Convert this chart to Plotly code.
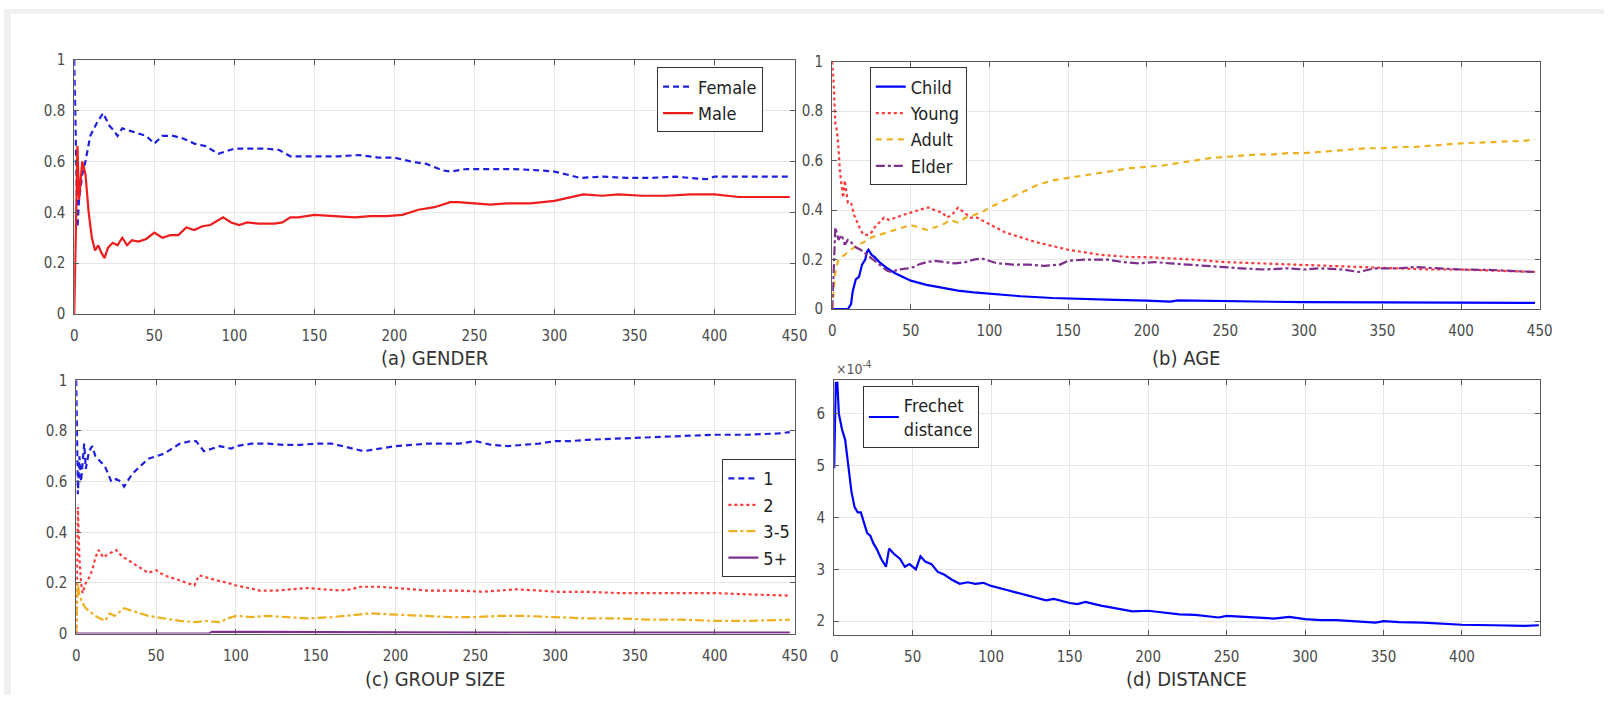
import plotly.graph_objects as go

FONT = "Liberation Sans Narrow, Arial Narrow, DejaVu Sans Condensed, sans-serif"

# ---------------- (a) GENDER ----------------
female_x = [0, 2, 3, 5, 7, 10, 14, 18, 22, 25, 27, 30, 35, 40, 45, 50, 55, 62, 68, 75, 82, 90, 95, 100,
            110, 120, 128, 135, 150, 165, 178, 190, 200, 210, 220, 230, 235, 245, 260, 275, 290, 300,
            310, 316, 330, 345, 360, 375, 385, 395, 400, 420, 447]
female_y = [1.0, 0.34, 0.45, 0.55, 0.60, 0.70, 0.75, 0.79, 0.74, 0.72, 0.70, 0.73, 0.72, 0.71, 0.70, 0.67,
            0.70, 0.70, 0.69, 0.67, 0.66, 0.63, 0.64, 0.65, 0.65, 0.65, 0.645, 0.62, 0.62, 0.62, 0.625,
            0.615, 0.615, 0.60, 0.59, 0.565, 0.56, 0.57, 0.57, 0.57, 0.565, 0.56, 0.545, 0.535, 0.54,
            0.535, 0.535, 0.54, 0.535, 0.53, 0.54, 0.54, 0.54]
male_x = [0, 2, 3, 5, 7, 9, 11, 13, 15, 17, 19, 21, 24, 27, 30, 33, 36, 40, 45, 50, 55, 60, 65, 70, 75,
          80, 85, 90, 93, 98, 103, 108, 115, 125, 130, 135, 140, 150, 160, 175, 185, 195, 205, 215,
          225, 235, 240, 250, 260, 270, 285, 300, 310, 318, 330, 340, 355, 370, 385, 400, 415, 430, 447]
male_y = [0.0, 0.66, 0.45, 0.60, 0.55, 0.40, 0.30, 0.25, 0.27, 0.24, 0.22, 0.26, 0.28, 0.27, 0.30, 0.27,
          0.29, 0.285, 0.295, 0.32, 0.30, 0.31, 0.31, 0.34, 0.33, 0.345, 0.35, 0.37, 0.38, 0.36, 0.35,
          0.36, 0.355, 0.355, 0.36, 0.38, 0.38, 0.39, 0.385, 0.38, 0.385, 0.385, 0.39, 0.41, 0.42, 0.44,
          0.44, 0.435, 0.43, 0.435, 0.435, 0.445, 0.46, 0.47, 0.465, 0.47, 0.465, 0.465, 0.47, 0.47,
          0.46, 0.46, 0.46]

# ---------------- (b) AGE ----------------
child_x = [0, 10, 12, 13, 15, 17, 19, 21, 22, 23, 25, 27, 30, 35, 40, 45, 50, 60, 70, 80, 90, 100,
           120, 140, 160, 180, 200, 215, 220, 250, 300, 350, 400, 447]
child_y = [0.0, 0.0, 0.02, 0.07, 0.12, 0.13, 0.18, 0.20, 0.23, 0.24, 0.22, 0.21, 0.19, 0.165, 0.145,
           0.13, 0.115, 0.098, 0.085, 0.075, 0.068, 0.062, 0.052, 0.045, 0.04, 0.037, 0.034, 0.03,
           0.035, 0.032, 0.028, 0.027, 0.025, 0.025]
young_x = [0, 1, 2, 3, 4, 5, 6, 7, 8, 9, 10, 12, 14, 16, 18, 20, 23, 25, 28, 30, 33, 36, 40, 45, 50,
           55, 60, 62, 65, 70, 73, 76, 80, 84, 88, 92, 95, 100, 110, 120, 130, 140, 150, 160, 170,
           180, 190, 200, 215, 230, 250, 270, 290, 310, 330, 350, 380, 400, 420, 447]
young_y = [1.0, 0.9, 0.75, 0.72, 0.65, 0.55, 0.50, 0.45, 0.52, 0.47, 0.43, 0.43, 0.38, 0.35, 0.32,
           0.30, 0.30, 0.31, 0.34, 0.35, 0.37, 0.36, 0.37, 0.38, 0.39, 0.40, 0.41, 0.41, 0.40, 0.39,
           0.37, 0.38, 0.41, 0.39, 0.37, 0.37, 0.36, 0.34, 0.31, 0.29, 0.27, 0.255, 0.24, 0.23, 0.22,
           0.215, 0.21, 0.21, 0.205, 0.20, 0.19, 0.185, 0.18, 0.175, 0.17, 0.165, 0.16, 0.16, 0.155,
           0.15]
adult_x = [0, 2, 4, 8, 12, 16, 20, 25, 30, 35, 40, 45, 50, 55, 60, 65, 70, 75, 80, 85, 90, 95, 100,
           110, 120, 130, 140, 150, 160, 170, 180, 190, 200, 210, 220, 230, 240, 250, 260, 270, 280,
           290, 300, 310, 320, 330, 340, 350, 360, 370, 380, 390, 400, 420, 440, 447]
adult_y = [0.0, 0.15, 0.20, 0.22, 0.24, 0.26, 0.27, 0.29, 0.30, 0.31, 0.32, 0.33, 0.34, 0.33, 0.32,
           0.33, 0.34, 0.36, 0.35, 0.37, 0.38, 0.39, 0.41, 0.44, 0.47, 0.50, 0.52, 0.53, 0.54, 0.55,
           0.56, 0.57, 0.575, 0.58, 0.59, 0.60, 0.61, 0.615, 0.62, 0.625, 0.625, 0.63, 0.63, 0.635,
           0.64, 0.645, 0.65, 0.65, 0.655, 0.655, 0.66, 0.665, 0.67, 0.675, 0.68, 0.685]
elder_x = [0, 2, 4, 6, 8, 10, 12, 15, 18, 22, 26, 30, 35, 38, 42, 48, 52, 55, 60, 65, 70, 78, 85, 90,
           95, 100, 105, 115, 125, 135, 145, 150, 160, 175, 185, 195, 205, 215, 225, 235, 245, 260,
           275, 290, 300, 310, 325, 335, 345, 360, 370, 385, 400, 420, 435, 447]
elder_y = [0.0, 0.33, 0.28, 0.30, 0.26, 0.28, 0.27, 0.25, 0.24, 0.22, 0.20, 0.18, 0.155, 0.15, 0.16,
           0.165, 0.17, 0.18, 0.19, 0.195, 0.19, 0.185, 0.19, 0.20, 0.205, 0.195, 0.185, 0.18, 0.18,
           0.175, 0.18, 0.195, 0.20, 0.20, 0.19, 0.185, 0.19, 0.185, 0.18, 0.175, 0.17, 0.165, 0.16,
           0.165, 0.16, 0.165, 0.16, 0.15, 0.165, 0.165, 0.17, 0.165, 0.16, 0.158, 0.155, 0.15]

# ---------------- (c) GROUP SIZE ----------------
g1_x = [0, 1, 2, 3, 5, 6, 8, 10, 12, 15, 18, 20, 22, 25, 28, 30, 35, 40, 45, 50, 55, 60, 65, 72, 75,
        80, 85, 90, 97, 100, 110, 120, 130, 140, 150, 160, 170, 180, 185, 200, 210, 220, 240, 250,
        260, 270, 280, 290, 300, 310, 320, 340, 350, 370, 380, 400, 420, 440, 447]
g1_y = [1.0, 0.55, 0.70, 0.60, 0.75, 0.65, 0.72, 0.74, 0.70, 0.68, 0.66, 0.63, 0.60, 0.61, 0.60, 0.58,
        0.63, 0.66, 0.69, 0.70, 0.71, 0.73, 0.75, 0.76, 0.76, 0.72, 0.73, 0.74, 0.73, 0.74, 0.75, 0.75,
        0.745, 0.745, 0.75, 0.75, 0.735, 0.72, 0.725, 0.74, 0.745, 0.75, 0.75, 0.76, 0.745, 0.74,
        0.745, 0.75, 0.76, 0.76, 0.765, 0.77, 0.775, 0.78, 0.78, 0.785, 0.785, 0.79, 0.795]
g2_x = [0, 1, 2, 3, 4, 6, 8, 10, 12, 14, 17, 19, 22, 25, 28, 30, 35, 40, 45, 50, 55, 60, 65, 70, 74,
        77, 82, 88, 95, 100, 108, 115, 125, 135, 145, 155, 165, 172, 178, 190, 200, 210, 220, 240,
        255, 265, 275, 290, 300, 320, 340, 360, 380, 400, 420, 440, 447]
g2_y = [0.0, 0.50, 0.30, 0.20, 0.16, 0.20, 0.22, 0.25, 0.30, 0.33, 0.30, 0.31, 0.32, 0.33, 0.31, 0.30,
        0.28, 0.26, 0.24, 0.25, 0.23, 0.22, 0.21, 0.20, 0.19, 0.23, 0.22, 0.21, 0.20, 0.19, 0.18, 0.17,
        0.17, 0.175, 0.18, 0.175, 0.17, 0.175, 0.185, 0.185, 0.18, 0.175, 0.17, 0.17, 0.165, 0.17,
        0.175, 0.17, 0.165, 0.165, 0.16, 0.16, 0.16, 0.16, 0.155, 0.15, 0.15]
g35_x = [0, 1, 2, 4, 6, 8, 12, 15, 18, 21, 24, 28, 30, 35, 40, 45, 50, 55, 60, 65, 75, 80, 90, 95,
         100, 110, 120, 130, 145, 160, 175, 185, 200, 215, 235, 250, 265, 280, 300, 320, 340, 360,
         380, 400, 420, 440, 447]
g35_y = [0.0, 0.20, 0.15, 0.12, 0.10, 0.09, 0.07, 0.06, 0.05, 0.08, 0.07, 0.09, 0.10, 0.09, 0.08,
         0.07, 0.065, 0.06, 0.055, 0.05, 0.045, 0.05, 0.045, 0.06, 0.07, 0.065, 0.07, 0.065, 0.06,
         0.065, 0.075, 0.08, 0.075, 0.07, 0.065, 0.065, 0.07, 0.07, 0.065, 0.06, 0.06, 0.055, 0.055,
         0.05, 0.05, 0.055, 0.055]
g5_x = [0, 83, 85, 110, 200, 300, 360, 370, 447]
g5_y = [0.0, 0.0, 0.007, 0.006, 0.005, 0.004, 0.003, 0.005, 0.004]

# ---------------- (d) DISTANCE (values x 1e-4) ----------------
fd_x = [0, 1, 2, 3, 5, 7, 9, 11, 13, 15, 17, 19, 21, 23, 25, 27, 30, 33, 35, 38, 42, 45, 48, 52, 55,
        58, 62, 66, 70, 75, 80, 85, 90, 95, 100, 110, 120, 130, 135, 140, 150, 155, 160, 170, 180,
        190, 200, 210, 220, 230, 240, 245, 250, 260, 270, 280, 290, 300, 310, 320, 330, 340, 345,
        350, 360, 375, 390, 400, 420, 440, 449]
fd_y = [4.95, 6.6, 6.6, 6.0, 5.7, 5.5, 5.0, 4.5, 4.2, 4.1, 4.1, 3.9, 3.7, 3.65, 3.5, 3.4, 3.2, 3.05,
        3.4, 3.3, 3.2, 3.05, 3.1, 3.0, 3.25, 3.15, 3.1, 2.95, 2.9, 2.8, 2.72, 2.75, 2.72, 2.74, 2.68,
        2.6, 2.52, 2.43, 2.4, 2.43, 2.35, 2.33, 2.37, 2.3, 2.24, 2.19, 2.2, 2.16, 2.13, 2.12, 2.09,
        2.07, 2.1, 2.08, 2.06, 2.05, 2.08, 2.04, 2.02, 2.02, 2.0, 1.98, 1.97, 2.0, 1.98, 1.97, 1.95,
        1.93, 1.92, 1.91, 1.92]

x_ticks = [0, 50, 100, 150, 200, 250, 300, 350, 400, 450]
y_ticks = [0, 0.2, 0.4, 0.6, 0.8, 1]
y_ticktext = ["0", "0.2", "0.4", "0.6", "0.8", "1"]
d_ticks = [2, 3, 4, 5, 6]

captions = ["(a) GENDER", "(b) AGE", "(c) GROUP SIZE", "(d) DISTANCE"]

BLUE = "#0000ff"
RED = "#ee1c1c"
YELLOW = "#EDB120"
PURPLE = "#7E2F8E"

W, H = 1617, 704

fig = go.Figure()

def add(x, y, name, color, dash, ax, leg, width=2.2):
    fig.add_trace(go.Scatter(x=x, y=y, mode="lines", name=name,
                             line=dict(color=color, width=width, dash=dash),
                             xaxis="x" + ax, yaxis="y" + ax, legend=leg))

add(female_x, female_y, "Female", "#1f1fe0", "6px,4px", "", "legend")
add(male_x, male_y, "Male", RED, "solid", "", "legend")
add(child_x, child_y, "Child", BLUE, "solid", "2", "legend2")
add(young_x, young_y, "Young", "#ff3a3a", "dot", "2", "legend2")
add(adult_x, adult_y, "Adult", YELLOW, "6px,5px", "2", "legend2")
add(elder_x, elder_y, "Elder", PURPLE, "dashdot", "2", "legend2")
add(g1_x, g1_y, "1", "#1f1fe0", "6px,4px", "3", "legend3")
add(g2_x, g2_y, "2", "#ff3a3a", "dot", "3", "legend3")
add(g35_x, g35_y, "3-5", YELLOW, "dashdot", "3", "legend3")
add(g5_x, g5_y, "5+", PURPLE, "solid", "3", "legend3")
add(fd_x, fd_y, "Frechet<br>distance", BLUE, "solid", "4", "legend4")

# panel boxes in pixels: (left, right, top, bottom)
boxes = {
    "": (71, 799, 52, 313),
    "2": (837, 1552, 54, 308),
    "3": (73, 799, 381, 641),
    "4": (839, 1552, 381, 642),
}

axis_common = dict(showline=True, linecolor="#5a5a5a", linewidth=1, mirror="ticks",
                   ticks="inside", ticklen=5, tickcolor="#5a5a5a", showgrid=True,
                   gridcolor="#e6e6e6", gridwidth=1, zeroline=False,
                   tickfont=dict(family=FONT, size=15, color="#4a4a4a"))

layout = {}
for key, (l, r, t, b) in boxes.items():
    xd = [l / W, r / W]
    yd = [1 - b / H, 1 - t / H]
    xa = dict(axis_common, domain=xd, anchor="y" + key, tickvals=x_ticks,
              ticklabelstandoff=8)
    ya = dict(axis_common, domain=yd, anchor="x" + key, ticklabelstandoff=5)
    if key == "4":
        xa["range"] = [0, 449.5]
        ya["range"] = [1.74, 6.65]
        ya["tickvals"] = d_ticks
    else:
        xa["range"] = [0, 450]
        ya["range"] = [0, 1]
        ya["tickvals"] = y_ticks
        ya["ticktext"] = y_ticktext
    layout["xaxis" + key] = xa
    layout["yaxis" + key] = ya

fig.update_layout(**layout)

leg_common = dict(xanchor="left", yanchor="top", bgcolor="white", bordercolor="#333",
                  borderwidth=1, font=dict(family=FONT, size=18, color="#222"),
                  itemwidth=30, tracegroupgap=0, xref="paper", yref="paper")
fig.update_layout(
    legend=dict(leg_common, x=660 / W, y=1 - 60 / H),
    legend2=dict(leg_common, x=875 / W, y=1 - 60 / H),
    legend3=dict(leg_common, x=726 / W, y=1 - 462 / H),
    legend4=dict(leg_common, x=868 / W, y=1 - 387 / H),
)

annotations = []
for key, cap, ypix in [("", captions[0], 358), ("2", captions[1], 358),
                       ("3", captions[2], 688), ("4", captions[3], 688)]:
    l, r, t, b = boxes[key]
    annotations.append(dict(x=(l + r) / 2 / W, y=1 - ypix / H, xref="paper", yref="paper",
                            text=cap, showarrow=False, xanchor="center", yanchor="middle",
                            font=dict(family=FONT, size=20, color="#333")))
annotations.append(dict(x=839 / W, y=1 - 368 / H, xref="paper", yref="paper",
                        text="×10<sup>-4</sup>", showarrow=False, xanchor="left",
                        yanchor="middle", font=dict(family=FONT, size=14, color="#555")))

# faint grey frame at the top and left edge of the picture
shapes = [
    dict(type="rect", xref="paper", yref="paper", x0=0, x1=1, y0=1 - 5 / H, y1=1,
         fillcolor="#f0f0f0", line=dict(width=0), layer="below"),
    dict(type="rect", xref="paper", yref="paper", x0=0, x1=7 / W, y0=0, y1=1,
         fillcolor="#f0f0f0", line=dict(width=0), layer="below"),
]

fig.update_layout(annotations=annotations, shapes=shapes, width=W, height=H,
                  margin=dict(l=0, r=0, t=0, b=0), paper_bgcolor="white",
                  plot_bgcolor="white", showlegend=True)

fig.write_html("out.html")
